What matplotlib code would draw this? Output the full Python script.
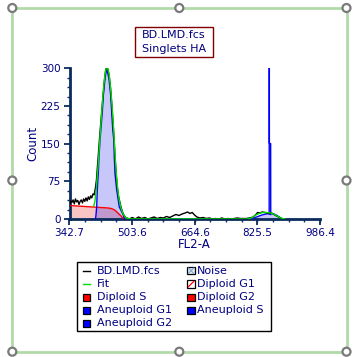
"""ModFit-style DNA histogram for BD.LMD.fcs (Singlets HA gate), saved to out.png."""

import matplotlib

matplotlib.use("Agg")
import matplotlib.pyplot as plt
from matplotlib.patches import Circle, Rectangle
from matplotlib.ticker import AutoMinorLocator

# --- data ------------------------------------------------------------------
# raw histogram (black)
data_x = [343, 346, 349, 352, 355, 358, 361, 364, 367, 370, 373, 376, 379, 382,
          385, 388, 391, 394, 397, 400, 403, 406, 409, 412, 415, 418, 421, 424,
          427, 430, 433, 436, 439, 442, 445, 448, 451, 454, 457, 460, 463, 466,
          469, 472, 475, 478, 481, 484, 487, 490, 493, 496, 504, 512, 520, 528,
          536, 544, 552, 560, 568, 576, 584, 592, 600, 608, 616, 624, 632, 640,
          646, 652, 658, 664, 670, 678, 686, 694, 702, 710, 718, 726, 734, 742,
          750, 758, 766, 774, 782, 790, 798, 805, 815, 822, 826, 832, 838, 845,
          850, 856, 862, 868, 875, 882, 888, 892]
data_y = [28, 36, 33, 38, 30, 40, 34, 37, 29, 35, 38, 32, 40, 35,
          42, 36, 44, 39, 46, 42, 50, 48, 60, 78, 110, 140, 172, 200,
          228, 255, 280, 298, 302, 296, 283, 262, 232, 198, 160, 120, 85, 60,
          44, 34, 24, 16, 10, 6, 3, 2, 1, 0, 3, 0, 4, 1,
          3, 0, 2, 4, 1, 3, 2, 5, 3, 6, 9, 7, 10, 12,
          14, 11, 13, 8, 4, 2, 3, 1, 2, 0, 1, 0, 2, 0,
          1, 0, 1, 2, 1, 1, 1, 2, 4, 9, 13, 12, 14, 13,
          12, 11, 12, 9, 6, 3, 1, 0]

# model fit (green)
fit_x = [405, 408, 411, 414, 417, 420, 423, 426, 429, 432, 435, 438, 441, 444,
         447, 450, 453, 456, 459, 462, 465, 468, 471, 474, 477, 480, 483, 486,
         489, 494, 500, 800, 806, 812, 818, 824, 830, 836, 842, 848, 854, 860,
         866, 872, 878, 884, 890, 896]
fit_y = [26, 35, 55, 85, 115, 150, 185, 218, 250, 275, 293, 305, 300, 290,
         270, 245, 215, 180, 140, 100, 72, 50, 35, 25, 17, 11, 7, 4,
         2, 1, 0, 0, 1, 3, 6, 9, 11, 12.5, 13, 13, 12.5, 12,
         10, 8, 5, 2.5, 1, 0]

# Diploid S (red / pink)
dip_s_x = [342.7, 360, 380, 400, 420, 440, 449, 456, 462, 467, 471, 475, 479, 485]
dip_s_y = [27, 26, 25, 24, 23, 22, 21, 19, 16, 12, 9, 6, 2.6, 0]

# main G1 peak (blue outline, lavender fill)
g1_x = [409.5, 410.8, 412.6, 414.1, 416.7, 418.5, 421.1, 423.6, 427.0, 429.6,
        433.9, 438.3, 444.2, 448.6, 451.1, 453.7, 457.1, 457.8, 459.6, 464.0,
        470.7, 481.0, 484.0]
g1_y = [0, 8, 24, 58, 91, 124, 157, 180, 213, 246,
        279, 300, 279, 246, 213, 180, 153, 124, 91, 58,
        24, 8, 0]

# aneuploid bump near 858 (blue outline, lavender fill)
aneu_x = [806.5, 816.8, 827.0, 837.4, 847.7, 857.9, 868.2, 875.9, 883.6, 888.7]
aneu_y = [0, 2, 5, 8, 10, 11, 10, 7, 3, 0]

# very narrow aneuploid spike (runs off the top)
spike_x = [855.8, 856.1, 856.3, 859.6, 859.8]
spike_y = [9.5, 600, 151, 150, 9]

x_ticks = [342.7, 503.6, 664.6, 825.5, 986.4]
x_tick_labels = ["342.7", "503.6", "664.6", "825.5", "986.4"]
y_ticks = [0, 75, 150, 225, 300]

legend_col1 = ["BD.LMD.fcs", "Fit", "Diploid S", "Aneuploid G1", "Aneuploid G2"]
legend_col2 = ["Noise", "Diploid G1", "Diploid G2", "Aneuploid S"]

# --- styling -----------------------------------------------------------------
NAVY = "#000080"
AXIS = "#0a2c5c"
PINK = "#f8c4c4"
RED = "#ff0000"
BLUE = "#0000ff"
GREEN = "#00dd00"
FRAME = "#b2d9a8"

W, H = 362, 357
fig = plt.figure(figsize=(W / 100, H / 100), dpi=100)
fig.patch.set_facecolor("white")

# plot area in pixels: x 69.5..320, y 68.3..219
ax = fig.add_axes([69.5 / W, (H - 219) / H, 250.5 / W, 150.7 / H])
ax.fill_between(dip_s_x, dip_s_y, color=PINK, lw=0, zorder=1)
ax.fill_between(g1_x, g1_y, color="#0000e6", alpha=0.22, lw=0, zorder=2)
ax.fill_between(aneu_x, aneu_y, color="#0000e6", alpha=0.22, lw=0, zorder=2)
ax.plot(dip_s_x, dip_s_y, color=RED, lw=1.0, zorder=3)
ax.plot(g1_x, g1_y, color=BLUE, lw=1.0, zorder=3)
ax.plot(aneu_x, aneu_y, color=BLUE, lw=1.0, zorder=3)
ax.plot(spike_x, spike_y, color=BLUE, lw=1.0, zorder=3)
ax.plot(data_x, data_y, color="black", lw=1.0, zorder=4)
ax.plot(fit_x, fit_y, color=GREEN, lw=1.0, zorder=5)

ax.set_xlim(342.7, 986.4)
ax.set_ylim(0, 300)
ax.set_xticks(x_ticks)
ax.set_xticklabels(x_tick_labels)
ax.set_yticks(y_ticks)
ax.xaxis.set_minor_locator(AutoMinorLocator(4))
ax.yaxis.set_minor_locator(AutoMinorLocator(4))
for side in ("top", "right"):
    ax.spines[side].set_visible(False)
for side in ("left", "bottom"):
    ax.spines[side].set_color(AXIS)
    ax.spines[side].set_linewidth(2)
ax.tick_params(which="major", direction="out", length=4, width=1.3, color=AXIS,
               labelcolor=NAVY, labelsize=7.5, pad=2.5)
ax.tick_params(which="minor", direction="out", length=2.5, width=1.0, color=AXIS)
ax.set_facecolor("none")

# decoration layer in pixel coordinates (y down)
deco = fig.add_axes([0, 0, 1, 1], zorder=-1)
deco.set_xlim(0, W)
deco.set_ylim(H, 0)
deco.axis("off")

deco.text(194.7, 245, "FL2-A", color=NAVY, fontsize=8.5, ha="center", va="center")
deco.text(33, 143, "Count", color=NAVY, fontsize=8.5, ha="center", va="center",
          rotation=90)

# title box
deco.add_patch(Rectangle((135, 27.3), 78.3, 29.4, fill=False, ec="#800000", lw=1))
deco.text(174, 35, "BD.LMD.fcs", color=NAVY, fontsize=8, ha="center", va="center")
deco.text(174, 49.3, "Singlets HA", color=NAVY, fontsize=8, ha="center", va="center")

# legend
deco.add_patch(Rectangle((77.3, 262.3), 193.4, 68.7, fc="white", ec="black", lw=1))
row_y = [270.7, 284, 297.3, 310.3, 323.3]
col1_swatch = ["line:black", "line:" + GREEN, RED, BLUE, BLUE]
col2_swatch = ["noise", "g1", RED, BLUE]


def draw_swatch(x0, y, kind):
    s = 7.4
    if kind.startswith("line:"):
        deco.plot([x0, x0 + 6.6], [y, y], color=kind[5:], lw=1.0)
        return
    if kind == "noise":
        deco.add_patch(Rectangle((x0, y - s / 2), s, s, fc="#e8eef4", ec="black", lw=0.9))
        deco.plot([x0 + 1, x0 + s - 1], [y - s / 2 + 1, y + s / 2 - 1], color="#7fa8d0", lw=0.8)
        deco.plot([x0 + 1, x0 + s - 1], [y + s / 2 - 1, y - s / 2 + 1], color="#7fa8d0", lw=0.8)
        return
    if kind == "g1":
        deco.add_patch(Rectangle((x0, y - s / 2), s, s, fc="white", ec="black", lw=0.9))
        deco.plot([x0 + 1, x0 + s - 1], [y + s / 2 - 1, y - s / 2 + 1], color=RED, lw=0.9)
        return
    deco.add_patch(Rectangle((x0, y - s / 2), s, s, fc=kind, ec="black", lw=0.9))


for label, kind, y in zip(legend_col1, col1_swatch, row_y):
    draw_swatch(82.9, y, kind)
    deco.text(97, y, label, color=NAVY, fontsize=8, ha="left", va="center")
for label, kind, y in zip(legend_col2, col2_swatch, row_y):
    draw_swatch(187.4, y, kind)
    deco.text(197, y, label, color=NAVY, fontsize=8, ha="left", va="center")

# selection frame with handles
deco.add_patch(Rectangle((12.3, 8), 334.2, 343.7, fill=False, ec=FRAME, lw=2))
for hx, hy in [(12.3, 8), (179.3, 8), (346.5, 8), (12.3, 180.5), (346.5, 180.5),
               (12.3, 351.7), (179.3, 351.7), (346.5, 351.7)]:
    deco.add_patch(Circle((hx, hy), 4.0, fc="white", ec="#7a7a7a", lw=1.6, zorder=5))

fig.savefig("out.png", dpi=100)
